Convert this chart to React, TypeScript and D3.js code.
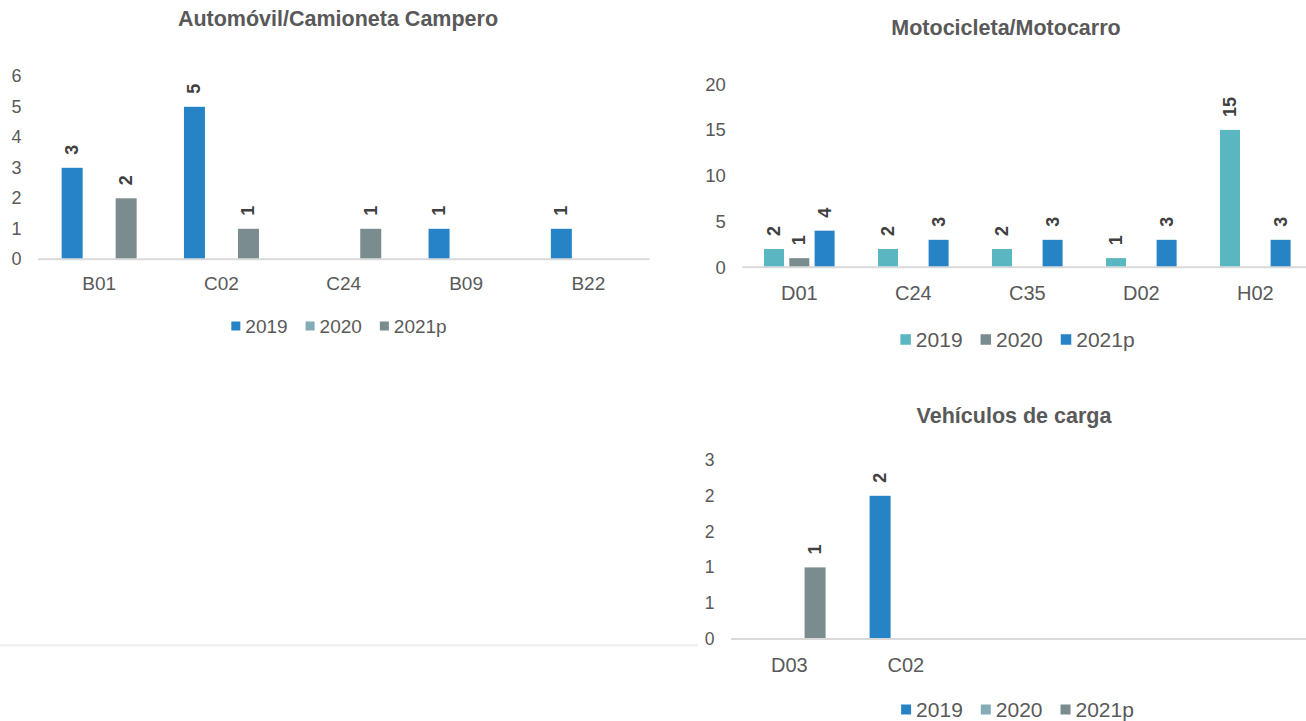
import React, { useRef, useEffect } from 'react'
import * as d3 from 'd3'

const SERIES = ['2019', '2020', '2021p']

const AUTO_CATS = ['B01', 'C02', 'C24', 'B09', 'B22']
const AUTO_2019 = [3, 5, null, 1, 1]
const AUTO_2020 = [null, null, null, null, null]
const AUTO_2021P = [2, 1, 1, null, null]
const AUTO_TICKS = [0, 1, 2, 3, 4, 5, 6]

const MOTO_CATS = ['D01', 'C24', 'C35', 'D02', 'H02']
const MOTO_2019 = [2, 2, 2, 1, 15]
const MOTO_2020 = [1, null, null, null, null]
const MOTO_2021P = [4, 3, 3, 3, 3]
const MOTO_TICKS = [0, 5, 10, 15, 20]

// only two categories are filled, the other three slots stay empty
const CARGA_CATS = ['D03', 'C02', '', '', '']
const CARGA_2019 = [null, 2, null, null, null]
const CARGA_2020 = [null, null, null, null, null]
const CARGA_2021P = [1, null, null, null, null]
const CARGA_TICKS = [0, 0.5, 1, 1.5, 2, 2.5]
const CARGA_TICK_LABELS = ['0', '1', '1', '2', '2', '3']

const BLUE = '#2683C6'
const TEAL = '#5AB6C0'
const GRAY = '#7B8C8E'
const LIGHT = '#84ACB6'
const TEXT = '#595959'
const LABEL = '#404040'
const FONT = '"Liberation Sans", Arial, sans-serif'

const CHARTS = [
  {
    title: 'Automóvil/Camioneta Campero', titleX: 338, titleY: 25.5,
    cats: AUTO_CATS, values: [AUTO_2019, AUTO_2020, AUTO_2021P], colors: [BLUE, LIGHT, GRAY],
    ticks: AUTO_TICKS, tickLabels: AUTO_TICKS.map(String), yMax: 6,
    left: 38, right: 649.5, base: 259.3, top: 76.3, barW: 21, slot: 27,
    tickSize: 18, catSize: 19, catDy: 31,
    legSize: 19, legSq: 9, legCx: 339, legY: 326,
  },
  {
    title: 'Motocicleta/Motocarro', titleX: 1006, titleY: 35,
    cats: MOTO_CATS, values: [MOTO_2019, MOTO_2020, MOTO_2021P], colors: [TEAL, GRAY, BLUE],
    ticks: MOTO_TICKS, tickLabels: MOTO_TICKS.map(String), yMax: 20,
    left: 742.3, right: 1312.3, base: 267.3, top: 84.1, barW: 20, slot: 25.3,
    tickSize: 18.5, catSize: 20, catDy: 33,
    legSize: 21, legSq: 10.5, legCx: 1017.5, legY: 339.5,
  },
  {
    title: 'Vehículos de carga', titleX: 1014, titleY: 423,
    cats: CARGA_CATS, values: [CARGA_2019, CARGA_2020, CARGA_2021P], colors: [BLUE, LIGHT, GRAY],
    ticks: CARGA_TICKS, tickLabels: CARGA_TICK_LABELS, yMax: 2.5,
    left: 731, right: 1314, base: 639, top: 460, barW: 21, slot: 25.8,
    tickSize: 17.5, catSize: 20, catDy: 33,
    legSize: 21, legSq: 10, legCx: 1017.5, legY: 709.5,
  },
]

function drawChart(svg, c) {
  const g = svg.append('g').style('font-family', FONT)

  const x = d3.scaleBand().domain(d3.range(c.cats.length)).range([c.left, c.right])
  const xs = d3.scalePoint().domain(SERIES).range([-c.slot, c.slot])
  const y = d3.scaleLinear().domain([0, c.yMax]).range([c.base, c.top])
  const mid = i => x(i) + x.bandwidth() / 2

  g.append('text')
    .attr('x', c.titleX).attr('y', c.titleY)
    .attr('text-anchor', 'middle')
    .attr('fill', TEXT).attr('font-weight', 'bold').attr('font-size', 21.5)
    .text(c.title)

  // axis baseline
  g.append('line')
    .attr('x1', c.left).attr('x2', c.right)
    .attr('y1', c.base).attr('y2', c.base)
    .attr('stroke', '#D9D9D9').attr('stroke-width', 2)

  g.selectAll('text.tick')
    .data(c.ticks)
    .join('text')
    .attr('class', 'tick')
    .attr('x', c.left - 16.5)
    .attr('y', d => y(d))
    .attr('text-anchor', 'end')
    .attr('dominant-baseline', 'central')
    .attr('fill', TEXT).attr('font-size', c.tickSize)
    .text((d, i) => c.tickLabels[i])

  g.selectAll('text.cat')
    .data(c.cats)
    .join('text')
    .attr('class', 'cat')
    .attr('x', (d, i) => mid(i))
    .attr('y', c.base + c.catDy)
    .attr('text-anchor', 'middle')
    .attr('fill', TEXT).attr('font-size', c.catSize)
    .text(d => d)

  SERIES.forEach((s, si) => {
    const pts = c.values[si]
      .map((v, i) => ({ v, i }))
      .filter(d => d.v != null)

    g.selectAll(`rect.s${si}`)
      .data(pts)
      .join('rect')
      .attr('class', `s${si}`)
      .attr('x', d => mid(d.i) + xs(s) - c.barW / 2)
      .attr('y', d => y(d.v))
      .attr('width', c.barW)
      .attr('height', d => c.base - 1 - y(d.v))
      .attr('fill', c.colors[si])

    g.selectAll(`text.l${si}`)
      .data(pts)
      .join('text')
      .attr('class', `l${si}`)
      .attr('transform', d => `translate(${mid(d.i) + xs(s)},${y(d.v) - 13}) rotate(-90)`)
      .attr('dominant-baseline', 'central')
      .attr('fill', LABEL).attr('font-weight', 'bold').attr('font-size', 18)
      .text(d => d.v)
  })

  // legend, centred under the chart
  const gap = 5
  const itemGap = 18
  const widths = SERIES.map(s => c.legSq + gap + s.length * 0.556 * c.legSize)
  const total = d3.sum(widths) + itemGap * (SERIES.length - 1)
  let lx = c.legCx - total / 2
  SERIES.forEach((s, si) => {
    g.append('rect')
      .attr('x', lx).attr('y', c.legY - c.legSq / 2)
      .attr('width', c.legSq).attr('height', c.legSq)
      .attr('fill', c.colors[si])
    g.append('text')
      .attr('x', lx + c.legSq + gap).attr('y', c.legY)
      .attr('dominant-baseline', 'central')
      .attr('fill', TEXT).attr('font-size', c.legSize)
      .text(s)
    lx += widths[si] + itemGap
  })
}

export default function App() {
  const svgRef = useRef(null)

  useEffect(() => {
    document.body.style.margin = '0'
    document.body.style.overflow = 'hidden'
    const svg = d3.select(svgRef.current)
    svg.selectAll('*').remove()

    svg.append('rect').attr('width', 1306).attr('height', 721).attr('fill', '#fff')
    // leftover frame edge of the empty panel
    svg.append('rect').attr('x', 0).attr('y', 644).attr('width', 698).attr('height', 2.5).attr('fill', '#F0F0F0')

    CHARTS.forEach(c => drawChart(svg, c))
  }, [])

  return (
    <svg ref={svgRef} width={1306} height={721} style={{ position: 'absolute', left: 0, top: 0, display: 'block' }} />
  )
}
